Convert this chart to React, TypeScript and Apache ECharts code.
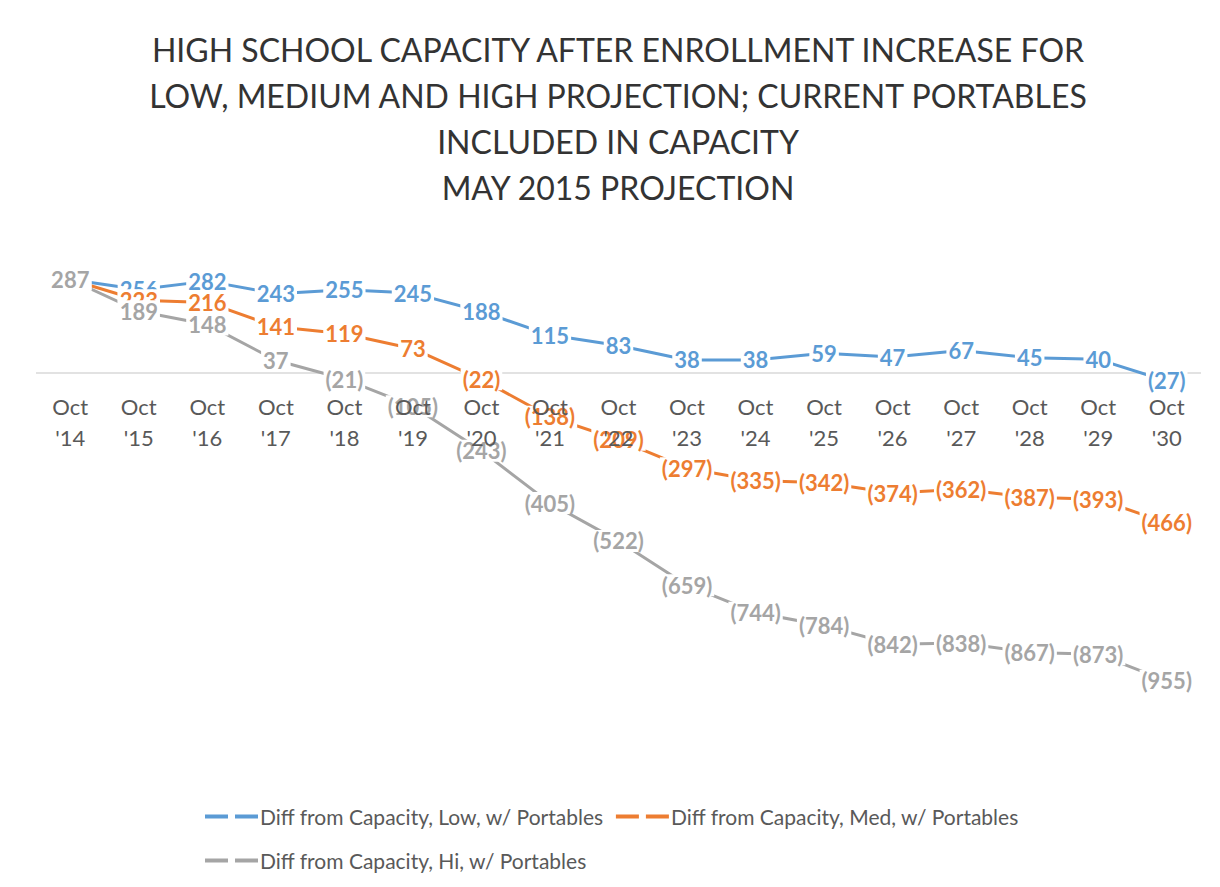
import React, { useEffect, useRef } from "react";
import * as echarts from "echarts";

const categories = ["Oct\n'14", "Oct\n'15", "Oct\n'16", "Oct\n'17", "Oct\n'18", "Oct\n'19", "Oct\n'20", "Oct\n'21", "Oct\n'22", "Oct\n'23", "Oct\n'24", "Oct\n'25", "Oct\n'26", "Oct\n'27", "Oct\n'28", "Oct\n'29", "Oct\n'30"];
const lowValues = [287, 256, 282, 243, 255, 245, 188, 115, 83, 38, 38, 59, 47, 67, 45, 40, -27];
const medValues = [287, 223, 216, 141, 119, 73, -22, -138, -209, -297, -335, -342, -374, -362, -387, -393, -466];
const hiValues = [287, 189, 148, 37, -21, -105, -243, -405, -522, -659, -744, -784, -842, -838, -867, -873, -955];
const seriesNames = [
  "Diff from Capacity, Low, w/ Portables",
  "Diff from Capacity, Med, w/ Portables",
  "Diff from Capacity, Hi, w/ Portables",
];
const titleLines = [
  "HIGH SCHOOL CAPACITY AFTER ENROLLMENT INCREASE FOR",
  "LOW, MEDIUM AND HIGH PROJECTION; CURRENT PORTABLES",
  "INCLUDED IN CAPACITY",
  "MAY 2015 PROJECTION",
];

const FONT = "Lato, 'Noto Sans', sans-serif";
const colors = ["#5B9BD5", "#ED7D31", "#A5A5A5"];
const dashIcon = "path://M0,0H23V4H0Z M30,0H53V4H30Z";

const Y_MIN = -1200;
const Y_MAX = 400;
const GRID_TOP = 243;
const GRID_BOTTOM = 127;
const CHART_H = 887;

export default function App() {
  const ref = useRef<HTMLDivElement>(null);
  useEffect(() => {
    if (!ref.current) return;
    const chart = echarts.init(ref.current, null, { renderer: "svg" });
    const fmt = (p: any) => (p.value < 0 ? `(${-p.value})` : `${p.value}`);
    const plotH = CHART_H - GRID_TOP - GRID_BOTTOM;
    const zeroFromBottom = (-Y_MIN / (Y_MAX - Y_MIN)) * plotH;
    const mkSeries = (name: string, data: number[], color: string, extra: any = {}) => ({
      name,
      type: "line",
      data,
      symbol: "circle",
      symbolSize: 1,
      itemStyle: { color },
      lineStyle: { color, width: 3 },
      label: {
        show: true,
        position: "inside",
        formatter: fmt,
        color,
        fontFamily: FONT,
        fontWeight: "bold",
        fontSize: 22,
        backgroundColor: "#ffffff",
        padding: [0, 2],
      },
      ...extra,
    });
    const legendText = { color: "#595959", fontSize: 21, fontFamily: FONT, padding: [0, 0, 0, -3] };
    chart.setOption({
      animation: false,
      textStyle: { fontFamily: FONT },
      graphic: [
        {
          type: "text",
          x: 618,
          y: 26,
          style: {
            text: titleLines.join("\n"),
            fontFamily: FONT,
            fontSize: 32,
            lineHeight: 46,
            textAlign: "center",
            fill: "#333333",
          },
        },
      ],
      grid: { left: 36, right: 19, top: GRID_TOP, bottom: GRID_BOTTOM },
      xAxis: {
        type: "category",
        data: categories,
        boundaryGap: true,
        position: "bottom",
        offset: -zeroFromBottom,
        z: 5,
        axisLine: { show: false, onZero: false },
        axisTick: { show: false },
        axisLabel: {
          color: "#595959",
          fontSize: 22,
          lineHeight: 31,
          margin: 19,
          fontFamily: FONT,
          interval: 0,
        },
        splitLine: { show: false },
      },
      yAxis: {
        type: "value",
        min: Y_MIN,
        max: Y_MAX,
        show: false,
        splitLine: { show: false },
      },
      legend: [
        {
          data: [seriesNames[0], seriesNames[1]],
          left: 200,
          top: 801,
          icon: dashIcon,
          itemWidth: 53,
          itemHeight: 4,
          itemGap: 12,
          textStyle: legendText,
        },
        {
          data: [seriesNames[2]],
          left: 200,
          top: 845,
          icon: dashIcon,
          itemWidth: 53,
          itemHeight: 4,
          textStyle: legendText,
        },
      ],
      series: [
        mkSeries(seriesNames[0], lowValues, colors[0], {
          markLine: {
            silent: true,
            symbol: "none",
            label: { show: false },
            lineStyle: { color: "#D9D9D9", width: 1.5, type: "solid" },
            data: [{ yAxis: 0 }],
            z: 0,
          },
        }),
        mkSeries(seriesNames[1], medValues, colors[1]),
        mkSeries(seriesNames[2], hiValues, colors[2]),
      ],
    });
    return () => chart.dispose();
  }, []);
  return (
    <div
      ref={ref}
      style={{ position: "fixed", left: 0, top: 0, width: 1220, height: 887, background: "#fff" }}
    />
  );
}
